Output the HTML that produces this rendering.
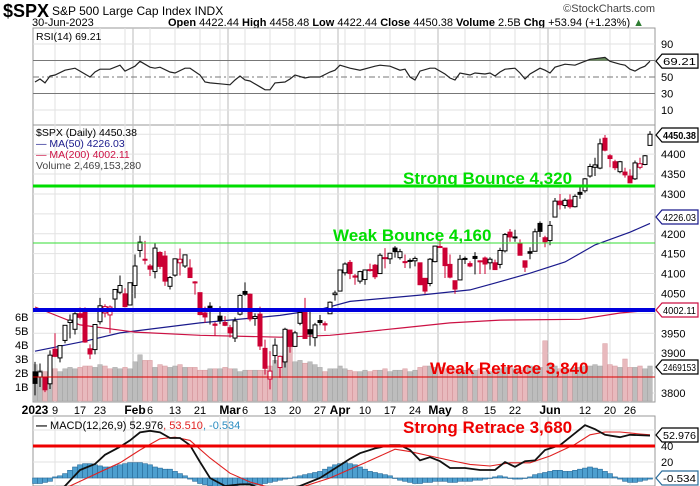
<!DOCTYPE html>
<html><head><meta charset="utf-8"><style>
html,body{margin:0;padding:0;background:#fff;}
svg{display:block;font-family:"Liberation Sans",Arial,sans-serif;}
</style></head><body>
<svg id="c" width="700" height="486" viewBox="0 0 700 486" xmlns="http://www.w3.org/2000/svg">
<g>
<text x="3" y="17" font-size="18" font-weight="bold">$SPX</text>
<text x="52" y="15" font-size="12">S&amp;P 500 Large Cap Index  INDX</text>
<text x="32" y="26" font-size="11">30-Jun-2023</text>
<text x="168" y="26" font-size="11"><tspan font-weight="bold">Open</tspan> 4422.44 <tspan font-weight="bold">High</tspan> 4458.48 <tspan font-weight="bold">Low</tspan> 4422.44 <tspan font-weight="bold">Close</tspan> 4450.38 <tspan font-weight="bold">Volume</tspan> 2.5B <tspan font-weight="bold">Chg</tspan> +53.94 (+1.23%) <tspan fill="#2e7d32">▲</tspan></text>
<text x="655" y="12" font-size="11" text-anchor="end" fill="#444">©StockCharts.com</text>
</g>
<g id="grid"></g>
<g id="marks"></g>
<g id="overlay"></g>
</svg>
<script>
const opens=[3853,3840,3840,3823,3910,3888,3932,3977,3960,3999,4003,3911,3909,3979,4001,3996,4036,4053,4049,4021,4070,4158,4136,4119,4105,4153,4144,4068,4096,4127,4119,4114,4077,4052,4001,4018,3973,3993,3977,3964,3938,3998,4055,4048,3987,3998,3912,3835,3894,3864,3878,3958,3917,3975,4002,3959,3939,3982,3974,3999,4047,4056,4102,4128,4094,4081,4085,4110,4121,4100,4140,4137,4164,4140,4130,4132,4132,4127,4088,4075,4130,4166,4164,4123,4082,4084,4137,4125,4143,4132,4139,4127,4127,4123,4157,4204,4190,4176,4132,4155,4156,4226,4190,4183,4242,4282,4271,4285,4268,4304,4308,4345,4367,4365,4440,4396,4381,4356,4355,4345,4338,4367,4374,4422];
const highs=[3878,3874,3840,3907,3950,3919,3970,3997,4003,4015,4015,3922,3972,4039,4023,4020,4061,4095,4063,4077,4148,4195,4182,4124,4176,4156,4157,4094,4138,4163,4148,4136,4081,4052,4017,4028,3978,4018,3993,3971,3990,4048,4078,4050,4000,4017,3934,3905,3937,3894,3964,3958,3956,4010,4039,4007,3976,3996,3980,4030,4057,4110,4128,4134,4099,4107,4110,4125,4124,4151,4164,4152,4169,4162,4148,4138,4143,4127,4089,4139,4170,4186,4164,4148,4082,4147,4143,4131,4154,4133,4143,4141,4135,4165,4202,4212,4210,4186,4132,4166,4213,4231,4195,4232,4290,4300,4289,4299,4299,4323,4340,4376,4391,4439,4448,4400,4386,4383,4366,4362,4384,4391,4398,4458];
const lows=[3794,3815,3802,3810,3890,3877,3925,3937,3947,3985,3926,3885,3897,3972,3990,3950,4013,4048,4015,4021,4038,4141,4123,4094,4088,4111,4069,4060,4092,4095,4114,4089,4047,3995,3976,3972,3943,3973,3968,3939,3928,3995,4044,3980,3969,3908,3846,3809,3874,3838,3864,3901,3916,3970,3936,3919,3917,3970,3956,3999,4032,4056,4095,4086,4072,4075,4072,4105,4086,4099,4113,4124,4140,4135,4114,4113,4118,4071,4049,4068,4128,4164,4089,4088,4049,4084,4124,4116,4098,4099,4099,4110,4109,4113,4153,4180,4180,4146,4104,4136,4155,4192,4166,4171,4242,4261,4263,4263,4266,4288,4303,4341,4345,4362,4407,4367,4360,4352,4341,4328,4335,4362,4372,4422];
const closes=[3824,3853,3808,3895,3892,3919,3970,3983,3999,3990,3928,3898,3972,4019,4017,4016,4060,4070,4017,4077,4119,4179,4136,4111,4164,4118,4081,4090,4137,4136,4147,4090,4079,3997,3991,4012,3970,3982,3970,3951,3981,4045,4048,3986,3992,3918,3862,3855,3920,3892,3960,3917,3951,4002,3937,3948,3971,3977,3971,4028,4051,4109,4124,4100,4091,4105,4109,4108,4092,4146,4138,4151,4155,4155,4130,4133,4138,4072,4056,4136,4169,4168,4120,4091,4061,4136,4138,4119,4138,4131,4124,4136,4110,4158,4198,4192,4192,4146,4116,4151,4205,4206,4180,4221,4282,4273,4284,4268,4294,4299,4338,4369,4373,4426,4410,4389,4366,4381,4348,4328,4378,4376,4396,4450];
const volumes=[2.6,2.2,2.1,2.4,2.3,2.1,2.3,2.4,2.3,2.4,2.5,2.5,2.4,2.6,2.5,2.3,2.4,2.3,2.4,2.3,2.8,3.3,2.9,2.9,2.4,2.6,2.5,2.4,2.5,2.6,2.4,2.4,2.4,2.2,2.2,2.3,2.3,2.3,2.4,2.3,2.3,2.1,2.2,2.2,2.2,2.2,2.2,2.5,2.9,3.1,3.6,3.9,2.8,2.9,2.7,2.8,2.6,2.4,2.1,2.3,2.3,2.5,2.3,2.2,2.1,2.1,2.2,2.1,2.2,2.2,2.3,2.1,2.2,2.2,2.3,2.1,2.2,2.4,2.5,2.5,2.4,2.4,2.3,2.4,2.3,2.3,2.2,2.2,2.2,2.3,2.1,2.1,2.2,2.3,2.4,2.5,2.3,2.2,2.4,2.5,2.4,2.4,4.3,2.6,2.5,2.3,2.3,2.3,2.4,2.4,2.5,2.5,2.6,2.5,4.1,2.6,2.5,2.4,3.0,2.4,2.4,2.5,2.3,2.5];
const ma50Days=[0,10,17,33,49,57,63,77,87,92,99,106,112,119,123];
const ma50Vals=[3905,3930,3951,3976,3995,4010,4030,4046,4059,4076,4101,4129,4172,4204,4226];
const ma200Days=[0,9,20,33,49,59,63,73,83,93,109,117,123];
const ma200Vals=[4016,3971,3953,3945,3940,3945,3950,3963,3976,3983,3985,4001,4008];
const rsiDays=[0,1,2,3,4,6,8,9,11,12,13,15,17,18,20,21,23,24,25,27,28,30,31,33,34,35,37,39,40,41,42,43,45,46,47,48,50,51,52,54,55,57,59,60,61,63,65,68,69,71,73,74,75,76,77,79,80,82,83,84,85,87,88,90,91,92,93,94,96,97,98,99,101,102,103,104,106,108,109,111,114,115,117,118,119,120,121,122,123];
const rsiVals=[44,47.6,42.9,51.2,52.4,58.3,60.7,57.1,50,56,59.5,59.5,64.3,57.1,63.1,69,61.9,60.7,61.9,56,54.8,60.7,60.7,52.4,44,42.9,41.7,40.5,46.4,51.2,46.4,45.2,38.1,34.5,34.5,42.9,44,47.6,52.4,48.8,50,50,56,58.3,64.3,60.7,58.3,63.1,64.3,63.1,58.3,59.5,50,46.4,57.1,60.7,60.7,53.6,48.8,46.4,54.8,52.4,54.8,53.6,54.8,51.2,56,59.5,60.7,54.8,47.6,53.6,60.7,58.3,54.8,61.9,65.5,64.3,66.7,71.4,73.8,69,65.5,64.3,59.5,57.1,60.7,63.1,69.2];
const macdDays=[0,5,6,9,12,14,17,19,21,23,25,27,29,31,33,35,38,41,43,46,49,53,57,61,63,65,68,71,73,75,77,79,81,83,86,89,92,94,96,98,100,102,105,108,110,112,114,117,119,123];
const macdVals=[-30,-15,-10,10,17.5,29,39,47,57,59,57,50,50,41,20,0,-10,-8,-8,-15,-15,-10,0,16,24,31,37,41,41,35,22,26,21,12.5,12.5,10,10,20,14,21,22,35,41,56,66,61,54,51,54,53];
const signalDays=[0,7,13,17,21,25,28,31,35,39,43,47,53,59,63,66,69,72,75,79,83,87,91,95,99,103,108,111,114,117,121,123];
const signalVals=[-20,-10,7.5,19,35,49,51,47,25,6,-5,-12,-12,0,11,19,27.5,36,33,27.5,22,17,15,19,19,27.5,42,54,57.5,57.5,55,54];
const histVals=[-5,-5,-4,-3,1,2,4,7,10,12,13,13,12,11,10,10,11,12,13,14,14,14,13,12,10,9,8,8,6,4,2,-1,-3,-5,-6,-7,-8,-9,-9,-8,-7,-6,-5,-5,-6,-6,-5,-4,-3,-2,-1,0,1,2,3,4,5,6,8,10,12,13,14,13,12,10,8,6,5,4,3,2,0,-2,-3,-4,-5,-5,-4,-4,-3,-3,-3,-4,-4,-3,-3,-3,-2,-2,-1,0,1,2,1,0,-1,-1,0,1,3,4,5,6,7,7,6,6,7,8,9,10,9,8,6,4,1,-1,-3,-4,-4,-3,-2,-1];
const priceTicks=[4400,4350,4300,4250,4200,4150,4100,4050,3950,3900,3800];
const rsiTicks=[90,50,30,10];
const macdTicks=[40,20];
const volTicks=[1,2,3,4,5,6];
const dateTickDays=[0,4,9,13,20,23,28,33,39,42,47,52,57,61,66,71,76,81,86,91,96,103,110,115,119];
const dateTickLabels=["2023","9","17","23","Feb","6","13","21","Mar","6","13","20","27","Apr","10","17","24","May","8","15","22","Jun","12","20","26"];
const monthDays=[20,39,61,81,103];
const weekDays=[4,9,13,18,23,28,33,37,42,47,52,57,62,66,71,76,86,91,96,101,105,110,115,119];

const NS="http://www.w3.org/2000/svg";
const L=33,R=655;
const xDay=i=>35+i*5;
const yP=p=>186+(4320-p)*0.398;
const yR=v=>77-(v-50)*0.825;
const yM=v=>478-v*0.8;
const yH=v=>478-v*1.1;
const yV=v=>401-v*14;
function mk(parent,tag,attrs){const e=document.createElementNS(NS,tag);for(const k in attrs)e.setAttribute(k,attrs[k]);document.getElementById(parent).appendChild(e);return e;}
function line(parent,x1,y1,x2,y2,st,w,dash){return mk(parent,'line',{x1,y1,x2,y2,stroke:st,'stroke-width':w,'stroke-dasharray':dash||'none'});}
function txt(parent,x,y,s,attrs){const e=mk(parent,'text',Object.assign({x,y,'font-size':11},attrs||{}));e.textContent=s;return e;}
function poly(days,vals,fy){return days.map((d,k)=>xDay(d)+','+fy(vals[k]).toFixed(1)).join(' ');}

const panels=[[28,125,'rsi-panel'],[125,402,'price-panel'],[416,486,'macd-panel']];
panels.forEach(p=>{const r=mk('grid','rect',{x:L,y:p[0],width:R-L,height:p[1]-p[0],fill:'#fff',stroke:'#999','stroke-width':1});

});
weekDays.forEach(d=>{panels.forEach(p=>line('grid',xDay(d),p[0],xDay(d),p[1],'#e2e2e2',1));});
monthDays.forEach(d=>{panels.forEach(p=>line('grid',xDay(d)-2,p[0],xDay(d)-2,p[1],'#bbb',1));});
for(let p=3800;p<=4450;p+=50){line('grid',L,yP(p),R,yP(p),'#e2e2e2',1);}
[90,10].forEach(v=>line('grid',L,yR(v),R,yR(v),'#e2e2e2',1));
[70,30].forEach(v=>line('grid',L,yR(v),R,yR(v),'#777',1));
line('grid',L,yR(50),R,yR(50),'#777',1,'6,3,2,3');
[60,40,20,0].forEach(v=>line('grid',L,yM(v),R,yM(v),'#e2e2e2',1));

mk('marks','clipPath',{id:'ob'});
mk('ob','rect',{x:L,y:28,width:R-L,height:yR(70)-28});
const rsiPts=poly(rsiDays,rsiVals,yR);
const rf=mk('marks','polygon',{points:rsiPts+' '+xDay(rsiDays[rsiDays.length-1])+','+yR(70)+' '+xDay(0)+','+yR(70),fill:'#6b8f5e','clip-path':'url(#ob)'});


const rl=mk('marks','polyline',{points:rsiPts,fill:'none',stroke:'#222','stroke-width':1.2});



volumes.forEach((v,i)=>{const down=i>0&&closes[i]<closes[i-1];
const b=mk('marks','rect',{x:xDay(i)-2.3,y:yV(v),width:4.6,height:401-yV(v),fill:down?'#e8b9bd':'#bdbdbd',stroke:down?'#d89a9f':'#a8a8a8','stroke-width':0.5});

});

const m50=mk('marks','polyline',{points:poly(ma50Days,ma50Vals,yP),fill:'none',stroke:'#1a1a8c','stroke-width':1.2});


const m200=mk('marks','polyline',{points:poly(ma200Days,ma200Vals,yP),fill:'none',stroke:'#cc1144','stroke-width':1.2});



closes.forEach((c,i)=>{const o=opens[i];const red=i>0&&c<closes[i-1];const col=red?'#cc0033':'#000';const filled=c<o;
const x=xDay(i);
const w=mk('marks','line',{x1:x,y1:yP(highs[i]),x2:x,y2:yP(lows[i]),stroke:col,'stroke-width':1});


const top=yP(Math.max(o,c)),bot=yP(Math.min(o,c));
const b=mk('marks','rect',{x:x-2,y:top,width:4,height:Math.max(1,bot-top),fill:filled?col:'#fff',stroke:col,'stroke-width':1});

});

histVals.forEach((h,i)=>{const y0=yH(0),y1=yH(h);
const b=mk('marks','rect',{x:xDay(i)-2.5,y:Math.min(y0,y1),width:5,height:Math.max(0.5,Math.abs(y1-y0)),fill:'#4d9fcf',stroke:'#2a6c9a','stroke-width':0.6});

});
mk('marks','clipPath',{id:'mc'});
mk('mc','rect',{x:L,y:416,width:R-L,height:70});
const sl=mk('marks','polyline',{points:poly(signalDays,signalVals,yM),fill:'none',stroke:'#e02020','stroke-width':1.1,'clip-path':'url(#mc)'});


const ml=mk('marks','polyline',{points:poly(macdDays,macdVals,yM),fill:'none',stroke:'#111','stroke-width':1.8,'clip-path':'url(#mc)'});



const ann=[[186,'#00dd00',3,'strong-bounce-line'],[243,'#33dd33',1,'weak-bounce-line'],[310,'#0000dd',4,'support-line'],[377,'#dd0000',1,'weak-retrace-line'],[446,'#ee0000',3,'strong-retrace-line']];
ann.forEach(a=>{const e=line('overlay',L,a[0],R,a[0],a[1],a[2]);

});
const labs=[[403,184,'Strong Bounce 4,320','#00dd00','strong-bounce-label'],[333,241,'Weak Bounce 4,160','#00dd00','weak-bounce-label'],[430,374,'Weak Retrace 3,840','#ee0000','weak-retrace-label'],[403,433,'Strong Retrace 3,680','#ee0000','strong-retrace-label']];
labs.forEach(l=>{const e=txt('overlay',l[0],l[1],l[2],{'font-size':17,'font-weight':'bold',fill:l[3]});

});

priceTicks.forEach(p=>{const e=txt('overlay',661,yP(p)+4,String(p));

});
rsiTicks.forEach(v=>{const e=txt('overlay',661,yR(v)+4,String(v));

});
macdTicks.forEach(v=>{const e=txt('overlay',661,yM(v)+4,String(v));

});
volTicks.forEach(v=>{const e=txt('overlay',15,yV(v)+4,v+'B');

});
dateTickDays.forEach((d,k)=>{const lb=dateTickLabels[k];const bold=isNaN(+lb)||lb==='2023';
const e=txt('overlay',xDay(d),414,lb,{'text-anchor':'middle','font-weight':bold?'bold':'normal','font-size':bold?12:11});

});

function vbox(y,s,col,bold,name){
const p=mk('overlay','path',{d:`M656,${y} L662,${y-7} L698,${y-7} L698,${y+7} L662,${y+7} Z`,fill:'#fff',stroke:col,'stroke-width':1.2});


const t=txt('overlay',663,y+4,s,{'font-weight':bold?'bold':'normal',fill:'#000','font-size':10.5,textLength:33,lengthAdjust:'spacingAndGlyphs'});

}
vbox(yR(69.21),'69.21','#000',false,'rsi-value');
vbox(135,'4450.38','#000',true,'close-value');
vbox(217,'4226.03','#1a1a8c',false,'ma50-value');
vbox(310,'4002.11','#cc1144',false,'ma200-value');
vbox(367,'2469153','#000',false,'volume-value');
vbox(435,'52.976','#000',false,'macd-value');
vbox(478,'-0.534','#2a6c9a',false,'histogram-value');

const lg=[[36,40,'RSI(14) 69.21','#000','rsi-legend'],[36,136,'$SPX (Daily) 4450.38','#000','price-legend'],[36,147,'— MA(50) 4226.03','#1a1a8c','ma50-legend'],[36,158,'— MA(200) 4002.11','#cc1144','ma200-legend'],[36,169,'Volume 2,469,153,280','#444','volume-legend']];
lg.forEach(l=>{const e=txt('overlay',l[0],l[1],l[2],{fill:l[3],'font-size':10.5});

});
const mlg=txt('overlay',36,429,'',{'font-size':11});


mlg.innerHTML='<tspan font-weight="bold">—</tspan> MACD(12,26,9) 52.976<tspan fill="#e02020">, 53.510</tspan><tspan fill="#2a8cc0">, -0.534</tspan>';
</script>
</body></html>
